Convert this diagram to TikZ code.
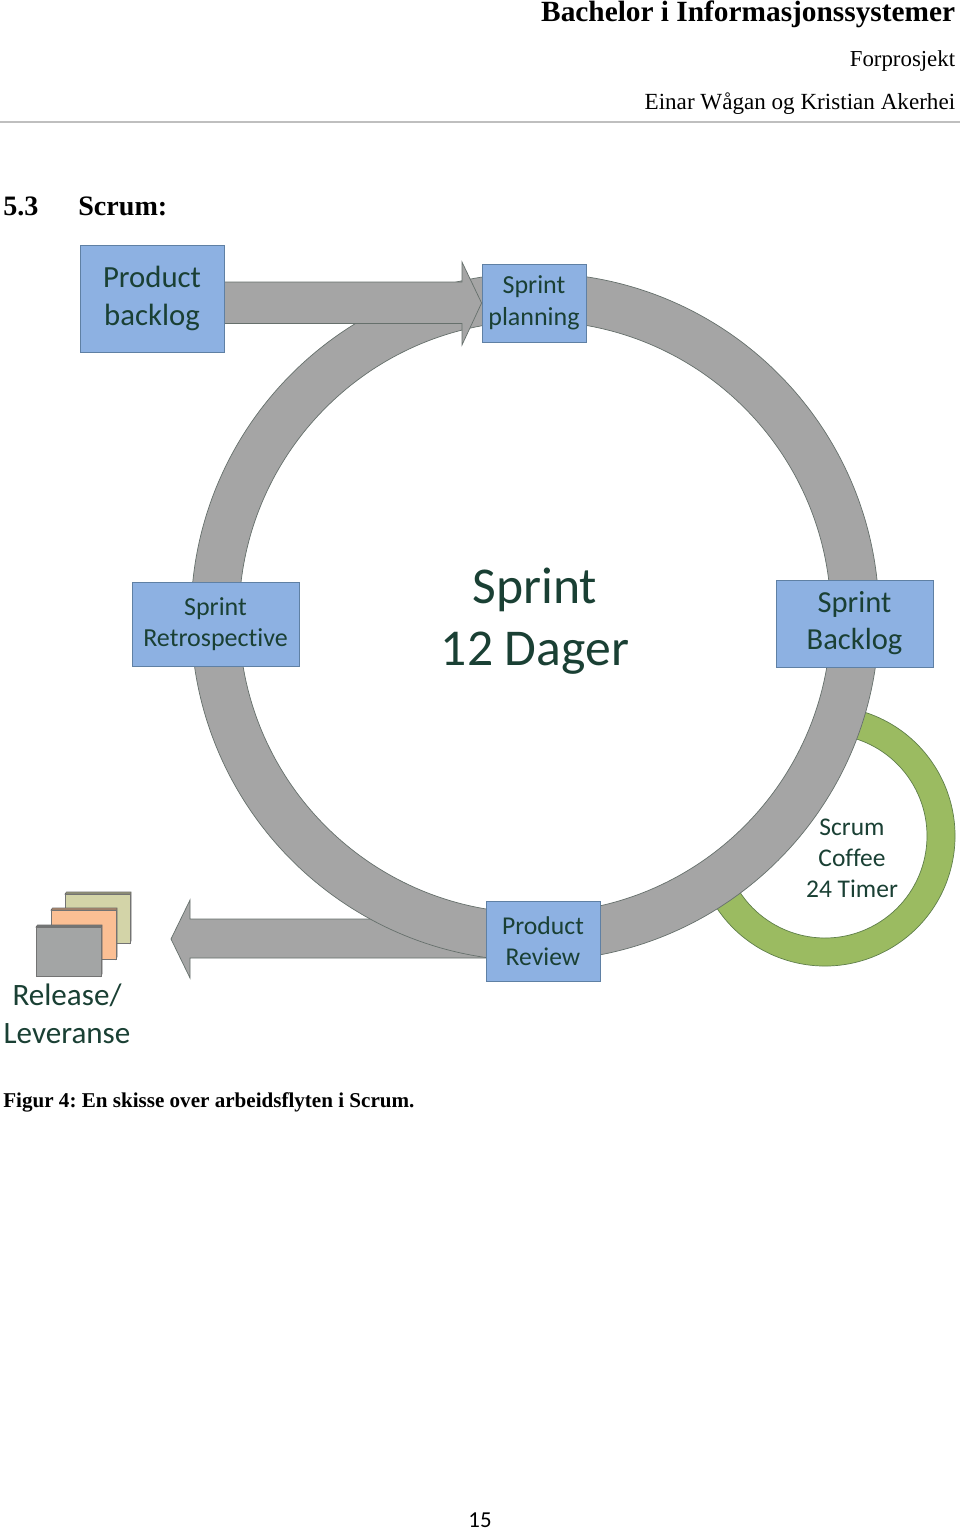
\documentclass[tikz,border=0pt]{standalone}
\usepackage{fontspec}
\setmainfont{Liberation Serif}
\newfontfamily\calibrifont[Ligatures=NoCommon]{Carlito}
\usetikzlibrary{calc,backgrounds}
\definecolor{boxfill}{HTML}{8DB1E2}
\definecolor{boxline}{HTML}{5F80A4}
\definecolor{ringfill}{HTML}{A5A5A5}
\definecolor{ringline}{HTML}{66706C}
\definecolor{coffeefill}{HTML}{9BBB61}
\definecolor{coffeeline}{HTML}{5F7F4A}
\definecolor{labelgreen}{HTML}{1A4034}
\newcommand{\labelsize}[1]{\calibrifont\fontsize{#1}{\fpeval{1.21*#1}}\selectfont}
\tikzset{
    sprintbox/.style={draw=boxline, fill=boxfill, line width=0.5pt, inner sep=0pt, align=center, text=labelgreen, font=\labelsize{#1}},
    ringpart/.style={draw=ringline, fill=ringfill, line width=0.4pt},
    freelabel/.style={inner sep=0pt, align=center, text=labelgreen, font=\labelsize{#1}},
    pagetext/.style={inner sep=0pt, anchor=base east, font=\fontsize{#1}{#1}\selectfont},
    headtext/.style={inner sep=0pt, anchor=base west, font=\bfseries\fontsize{#1}{#1}\selectfont},
}

\begin{document}
\frenchspacing
\begin{tikzpicture}[x=0.02cm, y=0.02cm]
    \useasboundingbox (0,0) rectangle (960,-1532);

    % Page header
    \node[pagetext=16.7, font=\bfseries\fontsize{16.7}{16.7}\selectfont] (title) at (955.5,-21) {Bachelor i Informasjonssystemer};
    \node[pagetext=13] (subject) at (955.5,-66) {Forprosjekt};
    \node[pagetext=13.15] (authors) at (955.5,-109) {Einar Wågan og Kristian Akerhei};
    \coordinate (ruleL) at (0,-122);
    \coordinate (ruleR) at (960,-122);
    \draw[black!25, line width=0.6pt] (ruleL) -- (ruleR);
    \node[headtext=16] (secno) at (3,-215) {5.3};
    \node[headtext=16] (secname) at (78,-215) {Scrum:};

    % Boxes on the ring
    \node[sprintbox=14.8, minimum width=2.08cm, minimum height=1.56cm] (planning) at (534,-303) {Sprint\\planning};
    \node[sprintbox=14.8, minimum width=3.34cm, minimum height=1.68cm] (retro) at (215.5,-624) {Sprint\\Retrospective};
    \node[sprintbox=17.4, minimum width=3.14cm, minimum height=1.74cm] (sbacklog) at (854.5,-623.5) {Sprint\\Backlog};
    \node[sprintbox=14.6, minimum width=2.28cm, minimum height=1.6cm] (review) at (543,-941) {Product\\Review};
    \node[sprintbox=17.5, minimum width=2.88cm, minimum height=2.14cm] (pbacklog) at (152,-298.5) {Product\\backlog};

    \begin{pgfonlayer}{background}
        \fill[white] (0,0) rectangle (960,-1532);

        % Coffee ring, its ends go under the big ring
        \coordinate (coffee) at (825,-836);
        \draw[draw=coffeeline, fill=coffeefill, line width=0.4pt]
            ($(coffee)+(75:130)$) arc[start angle=75, end angle=-150, radius=130]
            -- ($(coffee)+(-150:102)$) arc[start angle=-150, end angle=75, radius=102] -- cycle;

        % Arrow out
        \coordinate (headC) at (190,-900);
        \coordinate (headD) at (190,-978);
        \coordinate (tip) at (171,-939);
        \draw[ringpart] (review.west |- 0,-919) -- (190,-919) -- (headC) -- (tip) -- (headD) -- (190,-958) -- (review.west |- 0,-958) -- cycle;

        % Sprint ring
        \coordinate (ring) at (535,-617);
        \draw[ringpart, even odd rule] (ring) circle[radius=344] (ring) circle[radius=296];

        % Arrow in
        \coordinate (headA) at (462,-262);
        \coordinate (headB) at (462,-345);
        \draw[ringpart] (pbacklog.east |- 0,-282) -- (462,-282) -- (headA) -- (planning.west) -- (headB) -- (462,-323.5) -- (pbacklog.east |- 0,-323.5) -- cycle;
    \end{pgfonlayer}

    % Release stack
    \foreach \name/\px/\py/\col in {green/65/-894/D3D4A8, orange/51/-910/FBBF94, grey/36/-927/A3A5A5} {
        \definecolor{sheet}{HTML}{\col}
        \draw[black!60, fill=sheet!75!black, line width=0.3pt] (\px,\py) -- (\px+1.5,\py+2) -- (\px+66,\py+2) -- (\px+66,\py-47) -- (\px+65,\py-49) -- (\px+65,\py) -- cycle;
        \draw[black!55, fill=sheet, line width=0.3pt] (\px,\py) rectangle (\px+65,\py-49);
    }

    % Texts
    \node[freelabel=29.4] (sprint) at (535,-621) {Sprint\\12 Dager};
    \node[freelabel=14.5] (coffeetext) at (852,-858) {Scrum\\Coffee\\24 Timer};
    \node[freelabel=17.7] (release) at (67,-1014) {Release/\\Leveranse};
    \node[headtext=12] (caption) at (3,-1107) {Figur 4: En skisse over arbeidsflyten i Scrum.};
    \node[inner sep=0pt, font=\calibrifont\fontsize{13}{13}\selectfont] (pageno) at (480,-1520) {15};
\end{tikzpicture}
\end{document}
